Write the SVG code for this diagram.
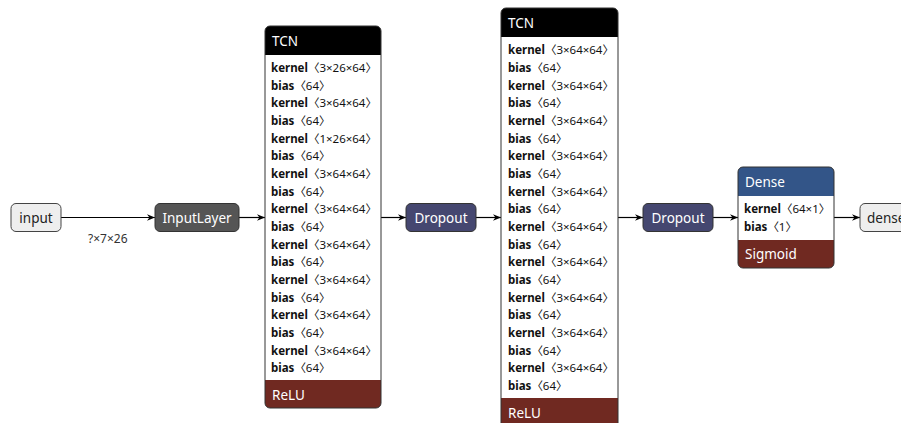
<svg xmlns="http://www.w3.org/2000/svg" width="901" height="423" viewBox="0 0 901 423">
<style>
.t{font-family:"Noto Sans","Noto Sans CJK SC","DejaVu Sans",sans-serif}
.hd{font-size:13.5px;fill:#fff}
.io{font-size:13.5px;fill:#222}
.r{font-size:11.5px;fill:#111}
.r tspan.b{font-weight:bold}
.e{stroke:#000;stroke-width:1.2;fill:none;marker-end:url(#ah)}
.lb{font-size:12px;fill:#333}
</style>
<defs>
<marker id="ah" viewBox="0 0 10 10" refX="10" refY="5" markerWidth="8" markerHeight="8" markerUnits="userSpaceOnUse" orient="auto"><path d="M0,1 L10,5 L0,9 L3,5 Z" fill="#000"/></marker>
<clipPath id="c1"><rect x="265" y="26" width="116" height="382" rx="5"/></clipPath>
<clipPath id="c2"><rect x="501" y="8" width="117" height="430" rx="5"/></clipPath>
<clipPath id="c3"><rect x="738" y="167" width="96" height="101" rx="5"/></clipPath>
</defs>
<rect width="901" height="423" fill="#fff"/>
<g id="connectors">
<path class="e" d="M61,217.5 H155"/>
<text class="t lb" x="88" y="243">?×7×26</text>
<path class="e" d="M239,217.5 H265"/>
<path class="e" d="M381,217.5 H406"/>
<path class="e" d="M476,217.5 H501"/>
<path class="e" d="M618,217.5 H643"/>
<path class="e" d="M713,217.5 H738"/>
<path class="e" d="M834,217.5 H860"/>
</g>
<g id="input">
<rect x="11" y="203.5" width="50" height="28" rx="5" fill="#eee" stroke="#444"/>
<text class="t io" x="36" y="222.5" text-anchor="middle">input</text>
</g>
<g id="inputlayer">
<rect x="155" y="203.5" width="84" height="28" rx="5" fill="#555" stroke="#333"/>
<text class="t hd" x="197" y="222.5" text-anchor="middle">InputLayer</text>
</g>
<g id="tcn1">
<g clip-path="url(#c1)">
<rect x="265" y="26" width="116" height="382" fill="#fff"/>
<rect x="265" y="26" width="116" height="29" fill="#000"/>
<rect x="265" y="380" width="116" height="28" fill="#702921"/>
</g>
<rect x="265" y="26" width="116" height="382" rx="5" fill="none" stroke="#333"/>
<text class="t hd" x="272" y="46">TCN</text>
<text class="t r" x="271">
<tspan x="271" y="72"><tspan class="b">kernel</tspan>〈3×26×64〉</tspan>
<tspan x="271" y="90"><tspan class="b">bias</tspan>〈64〉</tspan>
<tspan x="271" y="107"><tspan class="b">kernel</tspan>〈3×64×64〉</tspan>
<tspan x="271" y="125"><tspan class="b">bias</tspan>〈64〉</tspan>
<tspan x="271" y="143"><tspan class="b">kernel</tspan>〈1×26×64〉</tspan>
<tspan x="271" y="160"><tspan class="b">bias</tspan>〈64〉</tspan>
<tspan x="271" y="178"><tspan class="b">kernel</tspan>〈3×64×64〉</tspan>
<tspan x="271" y="196"><tspan class="b">bias</tspan>〈64〉</tspan>
<tspan x="271" y="213"><tspan class="b">kernel</tspan>〈3×64×64〉</tspan>
<tspan x="271" y="231"><tspan class="b">bias</tspan>〈64〉</tspan>
<tspan x="271" y="249"><tspan class="b">kernel</tspan>〈3×64×64〉</tspan>
<tspan x="271" y="266"><tspan class="b">bias</tspan>〈64〉</tspan>
<tspan x="271" y="284"><tspan class="b">kernel</tspan>〈3×64×64〉</tspan>
<tspan x="271" y="302"><tspan class="b">bias</tspan>〈64〉</tspan>
<tspan x="271" y="319"><tspan class="b">kernel</tspan>〈3×64×64〉</tspan>
<tspan x="271" y="337"><tspan class="b">bias</tspan>〈64〉</tspan>
<tspan x="271" y="355"><tspan class="b">kernel</tspan>〈3×64×64〉</tspan>
<tspan x="271" y="372"><tspan class="b">bias</tspan>〈64〉</tspan>
</text>
<text class="t hd" x="272" y="400">ReLU</text>
</g>
<g id="dropout1">
<rect x="406" y="203.5" width="70" height="28" rx="5" fill="#454770" stroke="#333"/>
<text class="t hd" x="441" y="222.5" text-anchor="middle">Dropout</text>
</g>
<g id="tcn2">
<g clip-path="url(#c2)">
<rect x="501" y="8" width="117" height="430" fill="#fff"/>
<rect x="501" y="8" width="117" height="29" fill="#000"/>
<rect x="501" y="398" width="117" height="40" fill="#702921"/>
</g>
<rect x="501" y="8" width="117" height="430" rx="5" fill="none" stroke="#333"/>
<text class="t hd" x="508" y="28">TCN</text>
<text class="t r" x="508">
<tspan x="508" y="54"><tspan class="b">kernel</tspan>〈3×64×64〉</tspan>
<tspan x="508" y="72"><tspan class="b">bias</tspan>〈64〉</tspan>
<tspan x="508" y="90"><tspan class="b">kernel</tspan>〈3×64×64〉</tspan>
<tspan x="508" y="107"><tspan class="b">bias</tspan>〈64〉</tspan>
<tspan x="508" y="125"><tspan class="b">kernel</tspan>〈3×64×64〉</tspan>
<tspan x="508" y="143"><tspan class="b">bias</tspan>〈64〉</tspan>
<tspan x="508" y="160"><tspan class="b">kernel</tspan>〈3×64×64〉</tspan>
<tspan x="508" y="178"><tspan class="b">bias</tspan>〈64〉</tspan>
<tspan x="508" y="196"><tspan class="b">kernel</tspan>〈3×64×64〉</tspan>
<tspan x="508" y="213"><tspan class="b">bias</tspan>〈64〉</tspan>
<tspan x="508" y="231"><tspan class="b">kernel</tspan>〈3×64×64〉</tspan>
<tspan x="508" y="249"><tspan class="b">bias</tspan>〈64〉</tspan>
<tspan x="508" y="266"><tspan class="b">kernel</tspan>〈3×64×64〉</tspan>
<tspan x="508" y="284"><tspan class="b">bias</tspan>〈64〉</tspan>
<tspan x="508" y="302"><tspan class="b">kernel</tspan>〈3×64×64〉</tspan>
<tspan x="508" y="319"><tspan class="b">bias</tspan>〈64〉</tspan>
<tspan x="508" y="337"><tspan class="b">kernel</tspan>〈3×64×64〉</tspan>
<tspan x="508" y="355"><tspan class="b">bias</tspan>〈64〉</tspan>
<tspan x="508" y="372"><tspan class="b">kernel</tspan>〈3×64×64〉</tspan>
<tspan x="508" y="390"><tspan class="b">bias</tspan>〈64〉</tspan>
</text>
<text class="t hd" x="508" y="418">ReLU</text>
</g>
<g id="dropout2">
<rect x="643" y="203.5" width="70" height="28" rx="5" fill="#454770" stroke="#333"/>
<text class="t hd" x="678" y="222.5" text-anchor="middle">Dropout</text>
</g>
<g id="dense">
<g clip-path="url(#c3)">
<rect x="738" y="167" width="96" height="101" fill="#fff"/>
<rect x="738" y="167" width="96" height="29" fill="#335588"/>
<rect x="738" y="240" width="96" height="28" fill="#702921"/>
</g>
<rect x="738" y="167" width="96" height="101" rx="5" fill="none" stroke="#333"/>
<text class="t hd" x="745" y="187">Dense</text>
<text class="t r" x="744">
<tspan x="744" y="213"><tspan class="b">kernel</tspan>〈64×1〉</tspan>
<tspan x="744" y="231"><tspan class="b">bias</tspan>〈1〉</tspan>
</text>
<text class="t hd" x="745" y="259">Sigmoid</text>
</g>
<g id="dense_out">
<rect x="860" y="203.5" width="60" height="28" rx="5" fill="#eee" stroke="#444"/>
<text class="t io" x="867" y="222.5">dense</text>
</g>
</svg>
